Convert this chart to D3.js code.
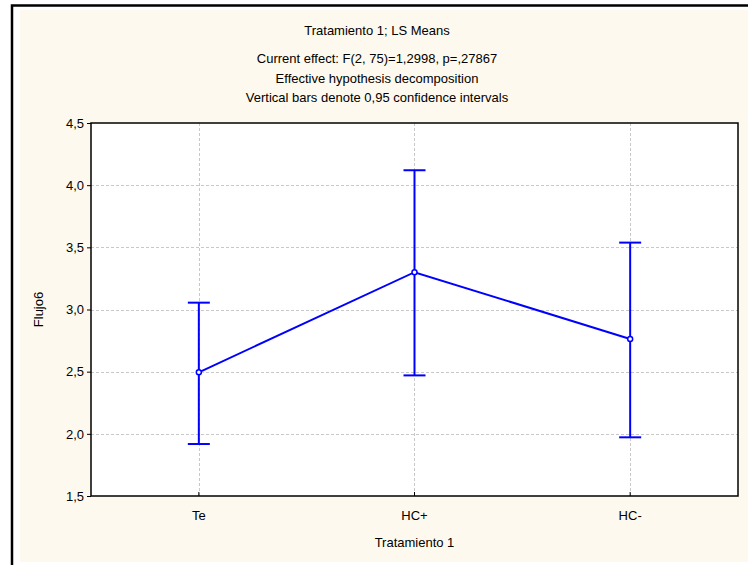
<!DOCTYPE html>
<html><head><meta charset="utf-8">
<script src="https://cdn.jsdelivr.net/npm/d3@7"></script>
<style>html,body{margin:0;padding:0;background:#fff;}svg{display:block;}</style>
</head><body>
<svg id="c" width="748" height="565"></svg>
<script>
const categories = ["Te", "HC+", "HC-"];
const means = [2.495, 3.30, 2.763];
const lower = [1.918, 2.47, 1.972];
const upper = [3.055, 4.12, 3.538];
const yTicks = [1.5, 2.0, 2.5, 3.0, 3.5, 4.0, 4.5];
const titleLines = ["Current effect: F(2, 75)=1,2998, p=,27867", "Effective hypothesis decomposition", "Vertical bars denote 0,95 confidence intervals"];

const svg = d3.select("#c");
const font = "'Liberation Sans Narrow','Arial Narrow','Liberation Sans',Arial,sans-serif";
// frame
svg.append("rect").attr("x", 12).attr("y", 5.5).attr("width", 760).attr("height", 600)
  .attr("fill", "#fff").attr("stroke", "#000").attr("stroke-width", 2.5);
svg.append("rect").attr("x", 20).attr("y", 10).attr("width", 740).attr("height", 552).attr("fill", "#FEF9EE");

const L = 91, R = 738, T = 123, B = 496;
const x = d3.scaleBand().domain(categories).range([L, R]);
const y = d3.scaleLinear().domain([1.5, 4.5]).range([B, T]);
const cx = d => x(d) + x.bandwidth() / 2;

svg.append("rect").attr("x", L).attr("y", T).attr("width", R - L).attr("height", B - T).attr("fill", "#fff");

// grid
svg.append("g").selectAll("line").data(yTicks.slice(1, -1)).join("line")
  .attr("x1", L).attr("x2", R).attr("y1", d => Math.round(y(d)) + 0.5).attr("y2", d => Math.round(y(d)) + 0.5)
  .attr("stroke", "#c8c8c8").attr("stroke-dasharray", "3,2");
svg.append("g").selectAll("line").data(categories).join("line")
  .attr("y1", T).attr("y2", B).attr("x1", d => Math.round(cx(d)) + 0.5).attr("x2", d => Math.round(cx(d)) + 0.5)
  .attr("stroke", "#c8c8c8").attr("stroke-dasharray", "3,2");

// axes
const yAxis = d3.axisLeft(y).tickValues(yTicks).tickSize(4).tickPadding(3)
  .tickFormat(d => d3.format(".1f")(d).replace(".", ","));
const gy = svg.append("g").attr("transform", `translate(${L},0)`).call(yAxis);
gy.select(".domain").remove();
gy.selectAll("text").attr("font-family", font).attr("font-size", 13).attr("fill", "#000");
gy.selectAll("line").attr("stroke", "#000");

const xAxis = d3.axisBottom(x).tickSize(-4).tickPadding(15);
const gx = svg.append("g").attr("transform", `translate(0,${B})`).call(xAxis);
gx.select(".domain").remove();
gx.selectAll("text").attr("font-family", font).attr("font-size", 13).attr("fill", "#000");
gx.selectAll("line").attr("stroke", "#000");

svg.append("rect").attr("x", L).attr("y", T).attr("width", R - L).attr("height", B - T)
  .attr("fill", "none").attr("stroke", "#000").attr("stroke-width", 1.5);

// error bars
const data = categories.map((c, i) => ({c, m: means[i], lo: lower[i], hi: upper[i]}));
const blue = "#0000ff";
const eb = svg.append("g").attr("stroke", blue).attr("stroke-width", 2);
eb.selectAll(".v").data(data).join("line").attr("x1", d => cx(d.c)).attr("x2", d => cx(d.c))
  .attr("y1", d => y(d.lo)).attr("y2", d => y(d.hi));
eb.selectAll(".t").data(data).join("line").attr("x1", d => cx(d.c) - 11).attr("x2", d => cx(d.c) + 11)
  .attr("y1", d => y(d.hi)).attr("y2", d => y(d.hi));
eb.selectAll(".b").data(data).join("line").attr("x1", d => cx(d.c) - 11).attr("x2", d => cx(d.c) + 11)
  .attr("y1", d => y(d.lo)).attr("y2", d => y(d.lo));

svg.append("path").datum(data)
  .attr("d", d3.line().x(d => cx(d.c)).y(d => y(d.m)))
  .attr("fill", "none").attr("stroke", blue).attr("stroke-width", 2);
svg.append("g").selectAll("circle").data(data).join("circle")
  .attr("cx", d => cx(d.c)).attr("cy", d => y(d.m)).attr("r", 2.5)
  .attr("fill", "#fff").attr("stroke", blue).attr("stroke-width", 1.5);

// titles
const tcx = 377;
svg.append("text").attr("x", tcx).attr("y", 35).attr("text-anchor", "middle")
  .attr("font-family", font).attr("font-size", 13).text("Tratamiento 1; LS Means");
svg.append("g").selectAll("text").data(titleLines).join("text")
  .attr("x", tcx).attr("y", (d, i) => 63 + i * 19.5).attr("text-anchor", "middle")
  .attr("font-family", font).attr("font-size", 13).text(d => d);

svg.append("text").attr("x", (L + R) / 2).attr("y", 547).attr("text-anchor", "middle")
  .attr("font-family", font).attr("font-size", 13).text("Tratamiento 1");
svg.append("text").attr("transform", `translate(43,${(T + B) / 2}) rotate(-90)`).attr("text-anchor", "middle")
  .attr("font-family", font).attr("font-size", 13).text("Flujo6");
</script>
</body></html>
